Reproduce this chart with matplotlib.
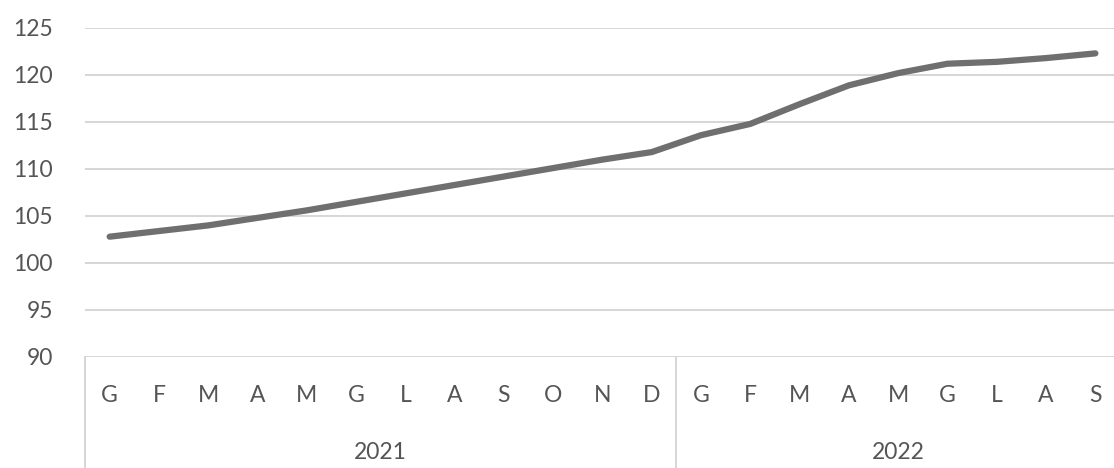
import numpy as np
import matplotlib
matplotlib.use('Agg')
import matplotlib.pyplot as plt

# dati
mesi = ['G', 'F', 'M', 'A', 'M', 'G', 'L', 'A', 'S', 'O', 'N', 'D',
        'G', 'F', 'M', 'A', 'M', 'G', 'L', 'A', 'S']
anni = ['2021', '2022']
mesi_per_anno = [12, 9]
valori = [102.8, 103.4, 104.0, 104.8, 105.6, 106.5, 107.4, 108.3, 109.2, 110.1, 111.0, 111.8,
          113.6, 114.8, 116.9, 118.9, 120.2, 121.2, 121.4, 121.8, 122.3]
yticks = [90, 95, 100, 105, 110, 115, 120, 125]

plt.rcParams['font.family'] = ['Lato', 'DejaVu Sans']
testo = '#555555'

fig = plt.figure(figsize=(11.14, 4.68), dpi=100)
ax = fig.add_axes([85 / 1114, 111 / 468, 1035 / 1114, 329 / 468])

x = np.arange(len(valori))
ax.plot(x, valori, color='#6f6f6f', lw=4.5, solid_capstyle='round', zorder=3)

ax.set_ylim(90, 125)
ax.set_xlim(-0.5, len(valori) - 0.5)
ax.set_yticks(yticks)
ax.set_yticklabels([str(v) for v in yticks], fontsize=16.5, color=testo)
ax.tick_params(axis='y', length=0, pad=23)
ax.set_xticks([])
ax.grid(axis='y', color='#d6d6d6', lw=1.4)
ax.set_axisbelow(True)
for s in ax.spines.values():
    s.set_visible(False)

trans = ax.get_xaxis_transform()
for i, m in enumerate(mesi):
    ax.text(i, -0.118, m, transform=trans, ha='center', va='center',
            fontsize=16.5, color=testo)

# etichette anni e separatori
start = 0
ax.plot([-0.5, -0.5], [0, -0.34], transform=trans, color='#d6d6d6', lw=1.4, clip_on=False)
for anno, n in zip(anni, mesi_per_anno):
    centro = start + (n - 1) / 2
    ax.text(centro, -0.289, anno, transform=trans, ha='center', va='center',
            fontsize=16.5, color=testo)
    fine = start + n - 0.5
    ax.plot([fine, fine], [0, -0.34], transform=trans, color='#d6d6d6', lw=1.4, clip_on=False)
    start += n

plt.savefig('out.png', dpi=100)
